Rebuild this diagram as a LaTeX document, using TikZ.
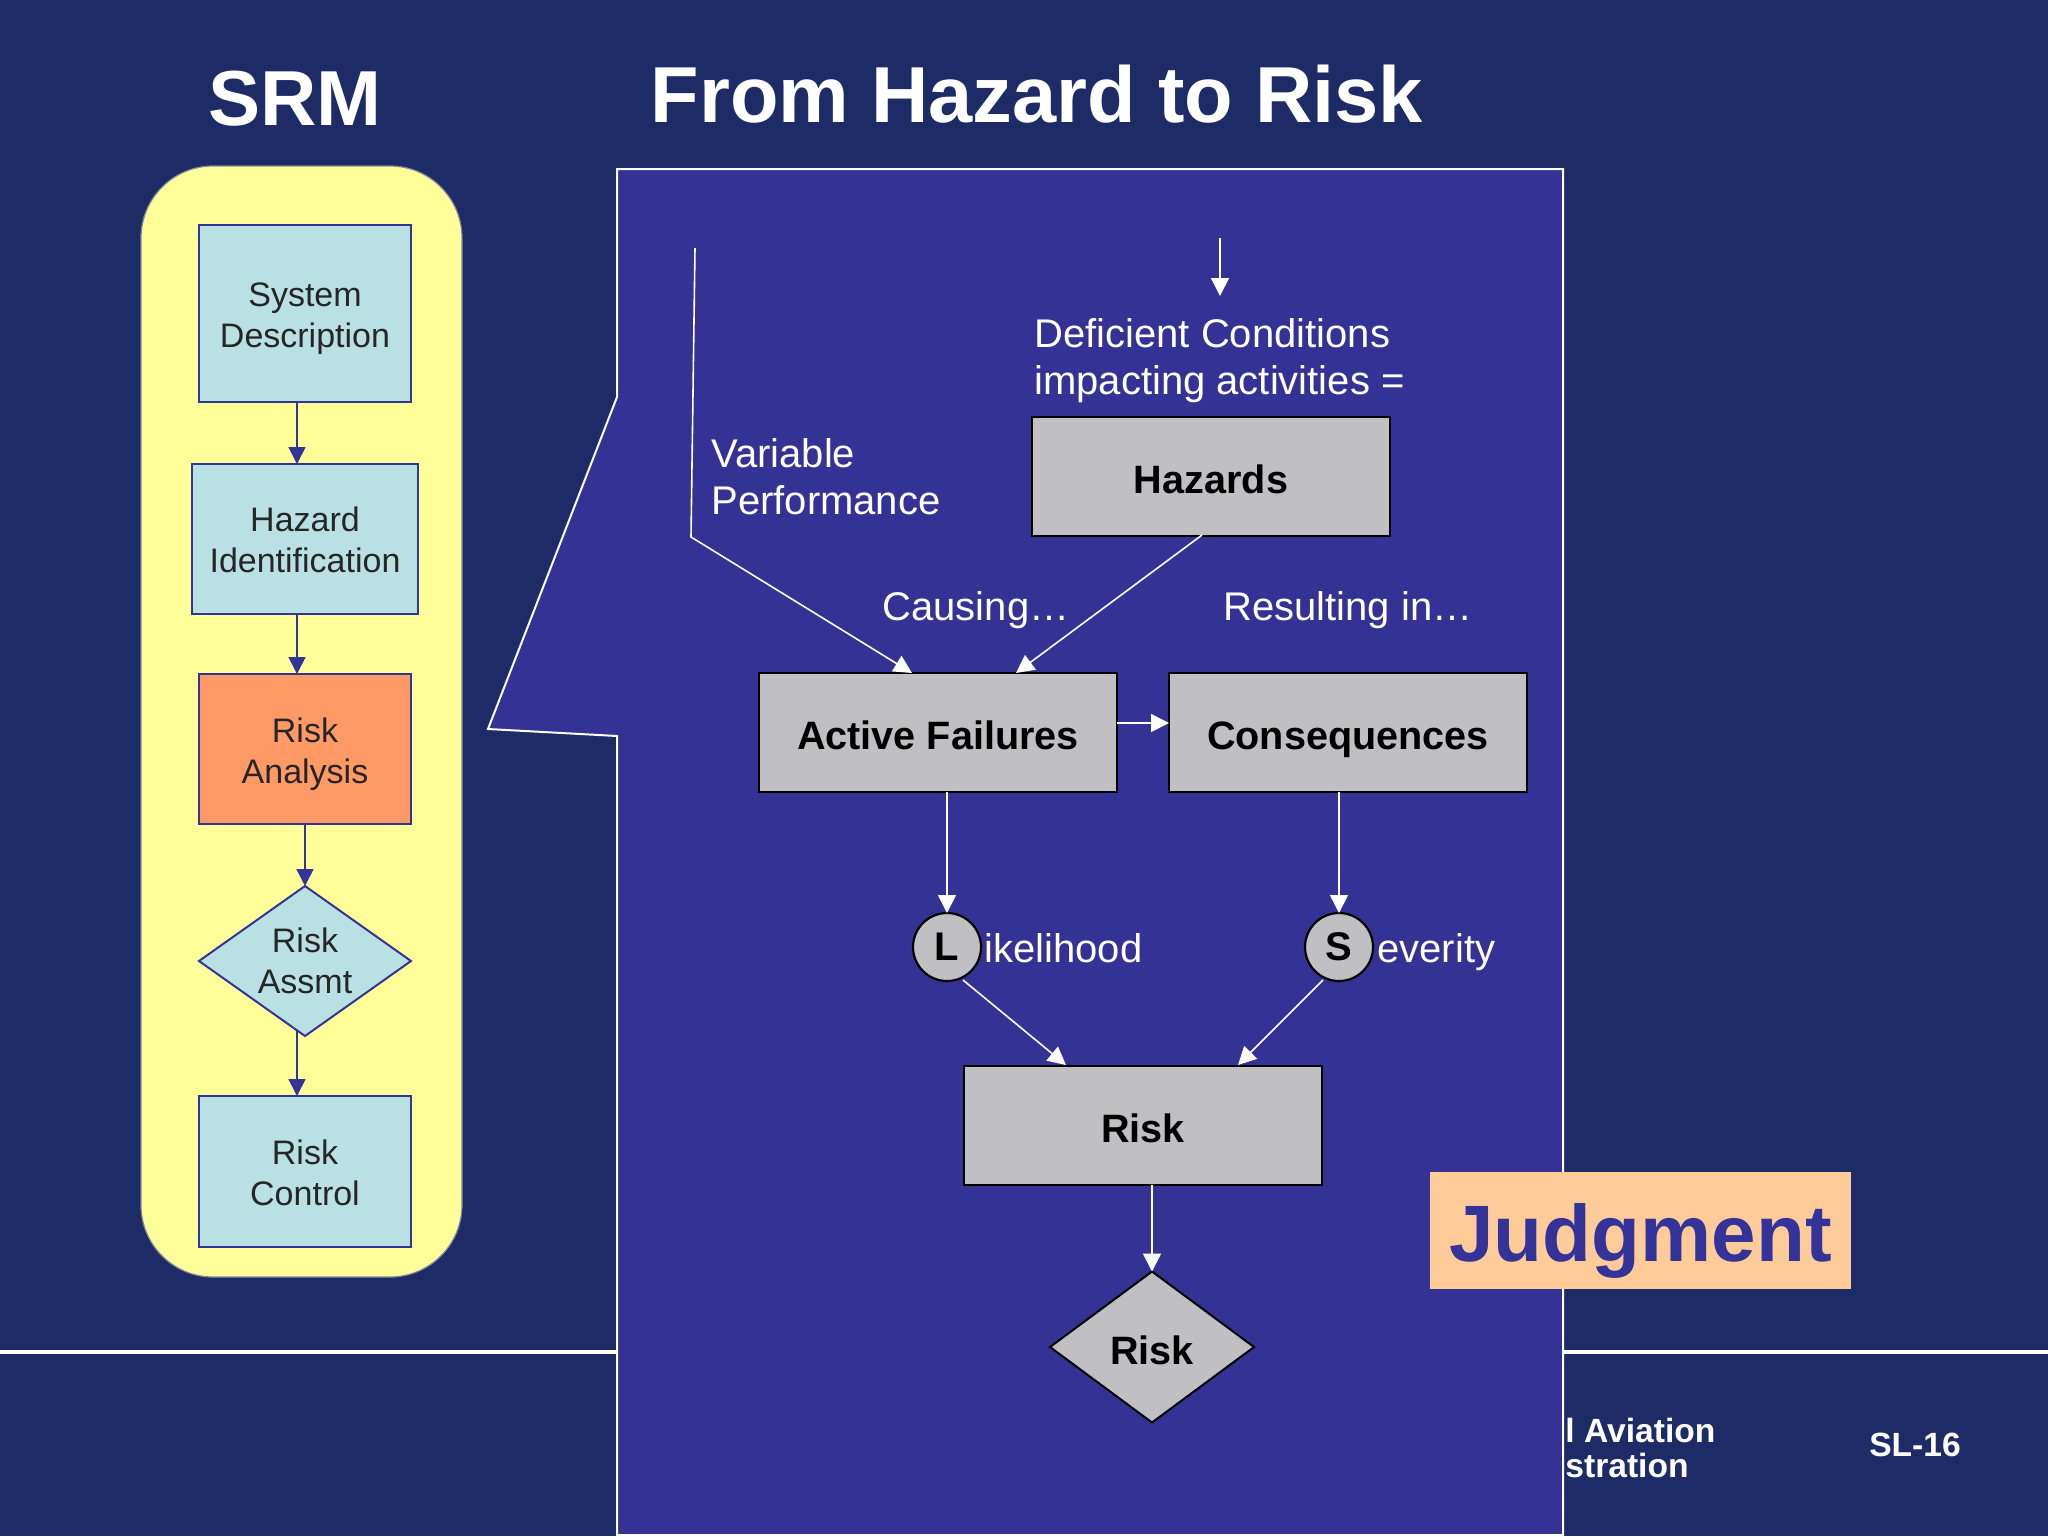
\documentclass[tikz,border=0pt]{standalone}
\usepackage{fontspec}
\setmainfont{Liberation Sans}
\usetikzlibrary{arrows.meta,shapes.geometric}
\definecolor{bgnavy}{HTML}{1D2C66}
\definecolor{panelblue}{HTML}{353295}
\definecolor{linkblue}{HTML}{333399}
\definecolor{panelyellow}{HTML}{FFFF99}
\definecolor{boxcyan}{HTML}{B9E0E3}
\definecolor{boxorange}{HTML}{FF9966}
\definecolor{boxgray}{HTML}{C0BFC1}
\definecolor{peach}{HTML}{FFCC99}
\tikzset{
  srmshape/.style={draw=linkblue,line width=1pt,fill=boxcyan,inner sep=0pt,outer sep=0pt},
  srmtext/.style={inner sep=0pt,outer sep=0pt,align=center,text=black!85,font=\fontsize{17}{20.4}\selectfont},
  srmbox/.style={srmshape,srmtext},
  srmdiamond/.style={srmbox,diamond,aspect=1.36,minimum width=106pt,minimum height=75pt},
  graybox/.style={draw=black,line width=1pt,fill=boxgray,inner sep=0pt,outer sep=0pt,minimum width=179pt,minimum height=59.5pt,text height=18pt,text depth=0.6pt,font=\fontsize{19.8}{24}\selectfont\bfseries,text=black},
  letter/.style={circle,draw=black,line width=1.1pt,fill=boxgray,inner sep=0pt,outer sep=0pt,minimum size=34pt,font=\fontsize{20}{24}\selectfont\bfseries,text=black},
  label/.style={text=white,inner sep=0pt,align=left,font=\fontsize{20}{23.5}\selectfont},
  sidelabel/.style={label,text height=15pt,text depth=4.2pt},
  whitearrow/.style={draw=white,line width=0.8pt,-{Triangle[length=9pt,width=9pt]}},
  bluearrow/.style={draw=linkblue,line width=0.8pt,-{Triangle[length=8.5pt,width=8.5pt]}},
  foot/.style={text=white,inner sep=0pt,font=\fontsize{16.8}{20}\selectfont\bfseries},
  rule/.style={draw=white,line width=1.8pt},
  titletext/.style={text=white,inner sep=0pt,font=\fontsize{39.7}{48}\selectfont\bfseries}
}
\begin{document}
\begin{tikzpicture}[x=0.5pt,y=-0.5pt]
\path[use as bounding box,fill=bgnavy] (0,0) rectangle (2048,1536);
% footer rule and footer text (the panel covers part of it)
\coordinate (ruleL) at (0,1352);
\coordinate (ruleR) at (2048,1352);
\draw[rule] (ruleL) -- (ruleR);
\node[foot,anchor=west] (footA) at (1565,1430) {l Aviation};
\node[foot,anchor=west] (footB) at (1565,1465) {stration};
\node[foot] (slide) at (1915,1445) {SL-16};
% titles
\node[titletext,font=\fontsize{39}{48}\selectfont\bfseries] (srmtitle) at (295,99) {SRM};
\node[titletext] (maintitle) at (1037,94) {From Hazard to Risk};
% yellow panel
\draw[draw=linkblue!60!panelyellow,line width=0.6pt,fill=panelyellow,rounded corners=36pt] (141,166) rectangle (462,1277);
% callout panel
\draw[draw=white,line width=1pt,fill=panelblue] (617,169) -- (1563,169) -- (1563,1535) -- (617,1535) -- (617,736) -- (488,729) -- (617,397) -- cycle;
% SRM flow
\node[srmshape,minimum width=106pt,minimum height=88.5pt] (sys) at (305,313.5) {};
\node[srmtext] (systxt) at (305,318.5) {System\\Description};
\node[srmshape,minimum width=113pt,minimum height=75pt] (haz) at (305,539) {};
\node[srmtext] (haztxt) at (305,540) {Hazard\\Identification};
\node[srmshape,fill=boxorange,minimum width=106pt,minimum height=75pt] (ana) at (305,749) {};
\node[srmtext] (anatxt) at (305,754.5) {Risk\\Analysis};
\node[srmdiamond] (asm) at (305,961) {Risk\\Assmt};
\node[srmshape,minimum width=106pt,minimum height=75.5pt] (ctl) at (305,1171.5) {};
\node[srmtext] (ctltxt) at (305,1172.5) {Risk\\Control};
\coordinate (lx) at (297,0);
\draw[bluearrow] (sys.south -| lx) -- (haz.north -| lx);
\draw[bluearrow] (haz.south -| lx) -- (ana.north -| lx);
\draw[bluearrow] (ana.south) -- (asm.north);
\draw[bluearrow] (lx |- asm.south) ++(0,-6) -- (ctl.north -| lx);
% hazard flow
\node[graybox] (hazards) at (1211,476) {Hazards};
\node[graybox] (active) at (938,732) {Active Failures};
\node[graybox] (cons) at (1348,732) {Consequences};
\node[graybox] (risk) at (1143,1125.5) {Risk};
\node[graybox,diamond,aspect=1.35,minimum width=102pt,minimum height=75.5pt] (riskd) at (1152,1347) {Risk};
\node[letter] (L) at (947,947) {L};
\node[letter] (S) at (1339,947) {S};
\node[sidelabel,anchor=west] (lik) at (984,951.8) {ikelihood};
\node[sidelabel,anchor=west] (sev) at (1377,951.8) {everity};
\node[label,anchor=west] (def) at (1034,361) {Deficient Conditions\\impacting activities =};
\node[label,anchor=west] (var) at (711,477) {Variable\\Performance};
\node[label] (caus) at (976,610) {Causing…};
\node[label] (res) at (1348,610) {Resulting in…};
% connectors
\coordinate (vtop) at (695,248);
\coordinate (vbend) at (691,537);
\coordinate (vend) at (912,673);
\coordinate (dtop) at (1220,238);
\coordinate (dend) at (1220,296);
\coordinate (hstart) at (1202,535);
\coordinate (hend) at (1016,673);
\coordinate (ly) at (0,723);
\coordinate (lkx) at (947,0);
\coordinate (sx) at (1339,0);
\coordinate (lstart) at (963,980);
\coordinate (lend) at (1066,1065);
\coordinate (sstart) at (1323,980);
\coordinate (send) at (1238,1065);
\draw[whitearrow] (vtop) -- (vbend) -- (vend);
\draw[whitearrow] (dtop) -- (dend);
\draw[whitearrow] (hstart) -- (hend);
\draw[whitearrow] (active.east |- ly) -- (cons.west |- ly);
\draw[whitearrow] (active.south -| lkx) -- (L.north);
\draw[whitearrow] (cons.south -| sx) -- (S.north);
\draw[whitearrow] (lstart) -- (lend);
\draw[whitearrow] (sstart) -- (send);
\draw[whitearrow] (risk.south -| riskd.north) -- (riskd.north);
% judgment
\node[fill=peach,text=linkblue,inner sep=0pt,minimum width=210.5pt,minimum height=58.5pt,text height=36pt,text depth=4.6pt,font=\fontsize{40}{48}\selectfont\bfseries] (judge) at (1640.5,1230.5) {Judgment};
\end{tikzpicture}
\end{document}
